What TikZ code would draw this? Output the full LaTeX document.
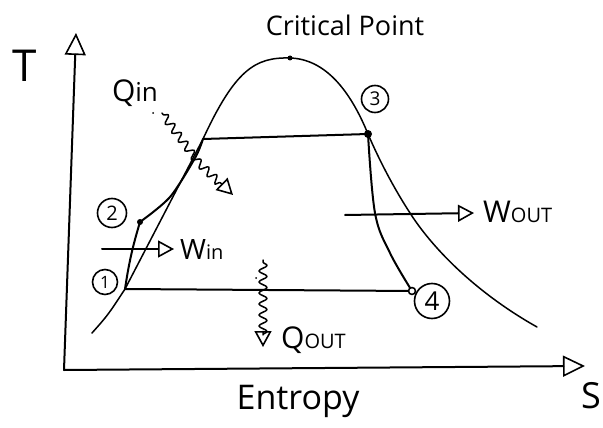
\documentclass[tikz,border=0pt]{standalone}
\usepackage{fontspec}
\setmainfont{Open Sans}
\usetikzlibrary{arrows.meta,decorations.pathmorphing}
\begin{document}
\begin{tikzpicture}[x=1pt,y=-1pt, line cap=round, line join=round,
 ln/.style={line width=2pt},
 thinln/.style={line width=1.5pt},
 oarrow/.style={-{Triangle[open,length=16pt,width=17pt,line width=1.6pt]}},
 bigarrow/.style={-{Triangle[open,length=22pt,width=21pt,line width=1.6pt]}},
 lbl/.style={inner sep=0pt},
 state/.style={circle, draw, line width=1.6pt, inner sep=0pt, minimum size=25pt, font=\fontsize{17}{19}\selectfont},
 wave/.style={decorate, decoration={snake, amplitude=4pt, segment length=11pt, pre length=2pt, post length=12pt}}]
\useasboundingbox (0,0) rectangle (603,428);
% axes
\coordinate (O) at (64,370);
\coordinate (ytip) at (76,33);
\coordinate (xtip) at (585,366);
\draw[ln, bigarrow] (O) -- (ytip);
\draw[ln, bigarrow] (O) -- (xtip);
\node[lbl, font=\fontsize{44}{48}\selectfont] (T) at (25,66) {T};
\node[lbl, font=\fontsize{36}{40}\selectfont] (S) at (591,396) {S};
\node[lbl, font=\fontsize{34}{38}\selectfont] (E) at (298,401) {Entropy};
% states
\coordinate (p1) at (125,289);
\coordinate (p2) at (140,222);
\coordinate (p3) at (368,134);
\coordinate (p4) at (412,291);
\coordinate (cp) at (290,58);
\coordinate (a) at (170,197);
\coordinate (b) at (195,158);
\coordinate (c) at (203,139);
\coordinate (d0) at (92,333);
\coordinate (d1) at (410,213);
\coordinate (d2) at (537,327);
% dome
\draw[thinln] (d0) .. controls (108,315) .. (p1) -- (c)
  .. controls (235,70) and (255,57) .. (cp)
  .. controls (325,59) and (350,90) .. (p3)
  .. controls (380,162) and (395,190) .. (d1)
  .. controls (435,252) and (480,295) .. (d2);
\fill (cp) circle (2.5pt);
\node[lbl, font=\fontsize{27}{30}\selectfont] (cpl) at (345,25) {Critical Point};
% cycle
\draw[ln] (p1) to[bend left=4] (p2);
\draw[ln] plot[smooth, tension=0.5] coordinates {(p2) (a) (b) (c)};
\draw[ln] (c) -- (p3);
\draw[ln] plot[smooth, tension=0.6] coordinates {(p3) (375,213) (390,253) (p4)};
\draw[ln] (p1) -- (p4);
\fill (p2) circle (3pt);
\fill (p3) circle (4pt);
\draw[line width=1.6pt, fill=white] (p4) circle (3.5pt);
\node[state] (n1) at (105,282) {1};
\node[state, minimum size=29pt, font=\fontsize{20}{22}\selectfont] (n2) at (112,213) {2};
\node[state, minimum size=27pt, font=\fontsize{19}{21}\selectfont] (n3) at (375,99) {3};
\node[state, minimum size=35pt, font=\fontsize{26}{28}\selectfont] (n4) at (432,301) {4};
% work arrows
\coordinate (wi0) at (102,249);
\coordinate (wi1) at (174,249);
\draw[ln, oarrow] (wi0) -- (wi1);
\node[lbl, anchor=west, font=\fontsize{28}{30}\selectfont] (win) at (180,250) {W\fontsize{20}{22}\selectfont in};
\coordinate (wo0) at (345,215);
\coordinate (wo1) at (474,213);
\draw[ln, oarrow] (wo0) -- (wo1);
\node[lbl, anchor=west, font=\fontsize{30}{32}\selectfont] (wout) at (483,212) {W\fontsize{20}{22}\selectfont OUT};
% heat arrows
\node[lbl, font=\fontsize{30}{32}\selectfont] (qin) at (135,93) {Q\fontsize{26}{28}\selectfont in};
\fill (153,113) circle (1pt);
\coordinate (qi0) at (162,113);
\coordinate (qi1) at (233,195);
\draw[thinln, oarrow, wave] (qi0) -- (b) -- (qi1);
\coordinate (qo0) at (263,260);
\coordinate (qo1) at (263,347);
\fill (256,278) circle (1pt);
\draw[thinln, oarrow, wave] (qo0) -- (qo1);
\node[lbl, anchor=west, font=\fontsize{30}{32}\selectfont] (qout) at (281,340) {Q\fontsize{20}{22}\selectfont OUT};
\end{tikzpicture}
\end{document}
